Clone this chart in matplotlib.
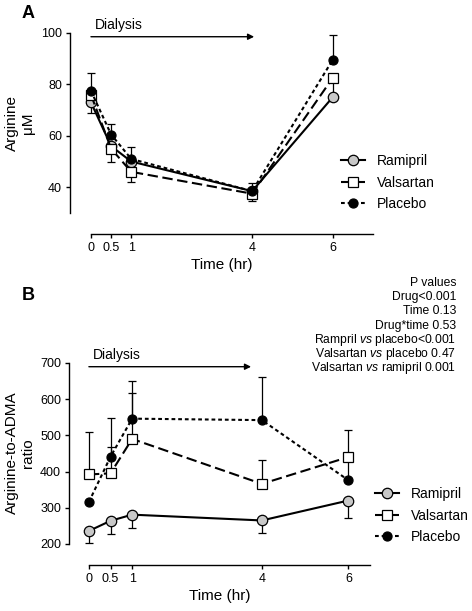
import matplotlib
matplotlib.use("Agg")
import matplotlib.pyplot as plt

plt.rcParams["font.family"] = ["Liberation Sans", "DejaVu Sans"]
plt.rcParams["mathtext.fontset"] = "custom"
plt.rcParams["mathtext.rm"] = "Liberation Sans"
plt.rcParams["mathtext.it"] = "Liberation Sans:italic"

# ---- data ----
times = [0, 0.5, 1, 4, 6]
groups = ["Ramipril", "Valsartan", "Placebo"]

# Panel A: arginine (uM)
arg_ramipril = [73, 56, 50, 38.5, 75]
arg_valsartan = [76, 55, 46, 37.5, 82.5]
arg_placebo = [77.5, 60.5, 51, 38.5, 89.5]
arg_err_lo = {"Ramipril": [4, 0, 0, 0, 0],
              "Valsartan": [0, 5, 4, 3, 7.5],
              "Placebo": [0, 0, 0, 0, 0]}
arg_err_hi = {"Ramipril": [0, 0, 0, 0, 0],
              "Valsartan": [0, 0, 0, 0, 0],
              "Placebo": [7, 4, 4.5, 3, 9.5]}

# Panel B: arginine-to-ADMA ratio
ratio_ramipril = [236, 264, 281, 265, 320]
ratio_valsartan = [392, 395, 490, 366, 440]
ratio_placebo = [316, 441, 546, 542, 376]
ratio_err_lo = {"Ramipril": [32, 37, 38, 36, 47],
                "Valsartan": [0, 0, 0, 0, 0],
                "Placebo": [0, 0, 0, 0, 0]}
ratio_err_hi = {"Ramipril": [0, 0, 0, 0, 0],
                "Valsartan": [116, 73, 127, 67, 74],
                "Placebo": [0, 108, 104, 120, 64]}

p_lines = ["P values",
           "Drug<0.001",
           "Time 0.13",
           "Drug*time 0.53",
           r"Rampril $\mathit{vs}$ placebo<0.001",
           r"Valsartan $\mathit{vs}$ placebo 0.47",
           r"Valsartan $\mathit{vs}$ ramipril 0.001"]

styles = {
    "Ramipril": dict(ls="-", marker="o", mfc="#c8c8c8", ms=7.5),
    "Valsartan": dict(ls=(0, (5, 2.2)), marker="s", mfc="white", ms=7),
    "Placebo": dict(ls=(0, (1.8, 1.4)), marker="o", mfc="black", ms=6.5),
}

W, H = 472, 611
fig = plt.figure(figsize=(W / 100, H / 100), dpi=100)


def px_axes(left, top, right, bottom):
    return fig.add_axes([left / W, 1 - bottom / H, (right - left) / W, (bottom - top) / H])


def draw_panel(ax, series, err_lo, err_hi, ylim, ybounds, yticks, xmax, arrow_x, leg_xy):
    handles = []
    for name, vals in zip(groups, series):
        ax.errorbar(times, vals, yerr=[err_lo[name], err_hi[name]], fmt="none",
                    ecolor="black", elinewidth=0.9, capsize=3.2, capthick=0.9, zorder=2)
    for name, vals in zip(groups, series):
        st = styles[name]
        h, = ax.plot(times, vals, color="black", lw=1.5, ls=st["ls"], marker=st["marker"],
                     mfc=st["mfc"], mec="black", mew=0.9, ms=st["ms"], label=name, zorder=3)
        handles.append(h)

    ax.set_ylim(*ylim)
    ax.set_xlim(ax.get_xlim()[0], xmax)
    for s in ["top", "right"]:
        ax.spines[s].set_visible(False)
    ax.spines["left"].set_bounds(*ybounds)
    ax.spines["bottom"].set_position(("outward", 15))   # ~21 px
    ax.spines["bottom"].set_bounds(0, xmax)
    for s in ["left", "bottom"]:
        ax.spines[s].set_linewidth(1.0)
    ax.set_yticks(yticks)
    ax.set_xticks(times)
    ax.set_xticklabels(["0", "0.5", "1", "4", "6"])
    ax.tick_params(direction="out", length=3.2, width=1, labelsize=9, pad=2.5)
    ax.set_xlabel("Time (hr)", fontsize=11, labelpad=3)

    # dialysis arrow
    ytop = ybounds[1]
    yr = ylim[1] - ylim[0]
    ax.annotate("", xy=(arrow_x, ytop - 0.02 * yr), xytext=(0, ytop - 0.02 * yr),
                arrowprops=dict(arrowstyle="-|>", color="black", lw=1.0,
                                mutation_scale=9, shrinkA=0, shrinkB=0))
    ax.text(0.1, ytop + 0.005 * yr, "Dialysis", fontsize=10, ha="left", va="bottom")

    ax.legend(handles=handles, loc="upper left", frameon=False, fontsize=10,
              bbox_to_anchor=(leg_xy[0] / W, 1 - leg_xy[1] / H),
              bbox_transform=fig.transFigure, borderpad=0, borderaxespad=0,
              handlelength=1.7, handletextpad=0.9, labelspacing=0.55)


axA = px_axes(70, 20, 373, 213)
axA.set_xlim(-0.52, 7.0)
draw_panel(axA, [arg_ramipril, arg_valsartan, arg_placebo], arg_err_lo, arg_err_hi,
           (30, 105), (30, 100), [40, 60, 80, 100], 7.0, 4.05, (341, 154))

axB = px_axes(69, 352, 370, 544)
axB.set_xlim(-0.46, 6.5)
draw_panel(axB, [ratio_ramipril, ratio_valsartan, ratio_placebo], ratio_err_lo, ratio_err_hi,
           (200, 730), (200, 700), [200, 300, 400, 500, 600, 700], 6.5, 3.75, (375, 487))

fig.text(20 / W, 1 - 123 / H, "Arginine\n\u03bcM", rotation=90, fontsize=11,
         ha="center", va="center", linespacing=1.1)
fig.text(20 / W, 1 - 453 / H, "Arginine-to-ADMA\nratio", rotation=90, fontsize=11,
         ha="center", va="center", linespacing=1.1)

fig.text(22 / W, 1 - 13 / H, "A", fontsize=13, fontweight="bold", va="center")
fig.text(22 / W, 1 - 295 / H, "B", fontsize=13, fontweight="bold", va="center")

for i, line in enumerate(p_lines):
    fig.text(456 / W, 1 - (283 + i * 14.2) / H, line, fontsize=8.7, ha="right", va="center")

fig.savefig("out.png", dpi=100)
